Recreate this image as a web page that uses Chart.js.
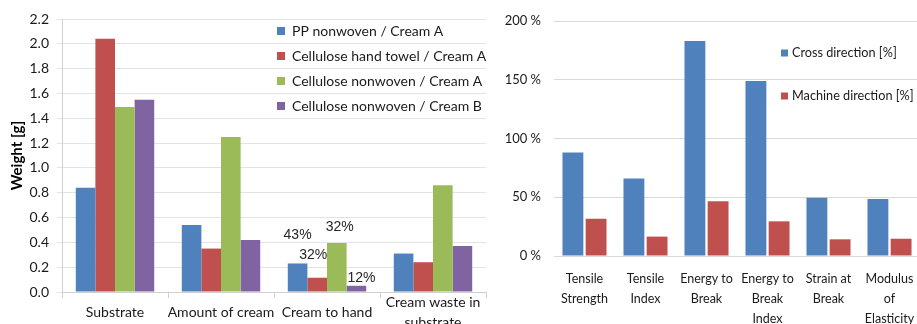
<!DOCTYPE html>
<html>
<head>
<meta charset="utf-8">
<script src="https://cdn.jsdelivr.net/npm/chart.js@4"></script>
<style>
  html, body { margin: 0; padding: 0; background: #fff; overflow: hidden; }
  body { width: 917px; height: 324px; position: relative; }
  #leftWrap { position: absolute; left: 0; top: 0; width: 490px; height: 324px; }
  #rightWrap { position: absolute; left: 490px; top: 0; width: 430px; height: 324px; }
</style>
</head>
<body>
<div id="leftWrap"><canvas id="weightChart"></canvas></div>
<div id="rightWrap"><canvas id="strengthChart"></canvas></div>
<script>
// left chart: weights per substrate / cream combination
const weightCategories = ['Substrate', 'Amount of cream', 'Cream to hand', ['Cream waste in', 'substrate']];
const ppCreamA = [0.84, 0.54, 0.23, 0.31];
const towelCreamA = [2.04, 0.35, 0.115, 0.24];
const celluloseCreamA = [1.49, 1.25, 0.395, 0.86];
const celluloseCreamB = [1.55, 0.42, 0.05, 0.37];
const weightSeriesNames = ['PP nonwoven / Cream A', 'Cellulose hand towel / Cream A', 'Cellulose nonwoven / Cream A', 'Cellulose nonwoven / Cream B'];
const transferShares = ['43%', '32%', '32%', '12%']; // shown over "Cream to hand"
const weightTicks = [0, 0.2, 0.4, 0.6, 0.8, 1.0, 1.2, 1.4, 1.6, 1.8, 2.0, 2.2];

// right chart: relative change of strength properties
const strengthCategories = [['Tensile', 'Strength'], ['Tensile', 'Index'], ['Energy to', 'Break'], ['Energy to', 'Break', 'Index'], ['Strain at', 'Break'], ['Modulus', 'of', 'Elasticity']];
const crossDirection = [88, 66, 183, 149, 49.6, 48.5];
const machineDirection = [31.7, 16.5, 46.5, 29.5, 14.2, 14.7];
const strengthSeriesNames = ['Cross direction [%]', 'Machine direction [%]'];
const strengthTicks = [0, 50, 100, 150, 200];

const BLUE = '#4f81bd', RED = '#c0504d', GREEN = '#9bbb59', PURPLE = '#8064a2';
const FONT = 'Lato, "Open Sans", sans-serif';

// draws a legend inside the plot area (the built-in one can't sit there)
function insideLegend(id, x, y0, rowGap, box, textX, size) {
    return {
        id: id,
        afterDraw(chart) {
            const ctx = chart.ctx;
            ctx.save();
            ctx.font = size + 'px ' + FONT;
            ctx.textBaseline = 'middle';
            chart.data.datasets.forEach((ds, i) => {
                const y = y0 + i * rowGap;
                ctx.fillStyle = ds.backgroundColor;
                ctx.fillRect(x, y - box / 2, box, box);
                ctx.fillStyle = '#1a1a1a';
                ctx.fillText(ds.label, textX, y);
            });
            ctx.restore();
        }
    };
}

// percentage labels above the "Cream to hand" bars
const shareLabels = {
    id: 'shareLabels',
    afterDatasetsDraw(chart) {
        const ctx = chart.ctx;
        const shifts = [[0, -28], [-4, -23], [3, -16], [5, -8]];
        ctx.save();
        ctx.font = '14px "Liberation Sans", Arial, sans-serif';
        ctx.fillStyle = '#262626';
        ctx.textAlign = 'center';
        ctx.textBaseline = 'middle';
        chart.data.datasets.forEach((ds, i) => {
            const bar = chart.getDatasetMeta(i).data[2];
            ctx.fillText(transferShares[i], bar.x + shifts[i][0], bar.y + shifts[i][1]);
        });
        ctx.restore();
    }
};

function makeDataset(label, data, color) {
    return { label: label, data: data, backgroundColor: color, borderWidth: 0 };
}

new Chart(document.getElementById('weightChart'), {
    type: 'bar',
    data: {
        labels: weightCategories,
        datasets: [
            makeDataset(weightSeriesNames[0], ppCreamA, BLUE),
            makeDataset(weightSeriesNames[1], towelCreamA, RED),
            makeDataset(weightSeriesNames[2], celluloseCreamA, GREEN),
            makeDataset(weightSeriesNames[3], celluloseCreamB, PURPLE)
        ]
    },
    options: {
        responsive: true,
        maintainAspectRatio: false,
        animation: false,
        layout: { padding: { top: 19, right: 4, left: 0, bottom: 0 } },
        datasets: { bar: { categoryPercentage: 0.74, barPercentage: 1.0 } },
        plugins: { legend: { display: false }, tooltip: { enabled: false } },
        scales: {
            x: {
                grid: { display: true, drawOnChartArea: false, drawTicks: true, tickLength: 6, color: '#d0d0d0', offset: true },
                border: { display: true, color: '#d0d0d0' },
                ticks: {
                    font: { family: FONT, size: 14, lineHeight: '20px' }, color: '#1a1a1a',
                    padding: 4, maxRotation: 0, autoSkip: false, crossAlign: 'center'
                },
                afterFit(scale) { scale.height = 32; }
            },
            y: {
                min: 0,
                max: 2.2,
                afterBuildTicks(scale) { scale.ticks = weightTicks.map(v => ({ value: v })); },
                grid: { color: '#e3e3e3', drawTicks: true, tickLength: 5 },
                border: { display: true, color: '#d0d0d0' },
                ticks: {
                    font: { family: FONT, size: 14 }, color: '#1a1a1a', padding: 8,
                    callback: v => v.toFixed(1)
                },
                title: { display: true, text: 'Weight [g]', font: { family: FONT, size: 15, weight: 'bold' }, color: '#000', padding: { top: 8, bottom: 0 } },
                afterFit(scale) { scale.width = 62; }
            }
        }
    },
    plugins: [insideLegend('weightLegend', 277, 31, 25, 8, 292, 14), shareLabels]
});

new Chart(document.getElementById('strengthChart'), {
    type: 'bar',
    data: {
        labels: strengthCategories,
        datasets: [
            makeDataset(strengthSeriesNames[0], crossDirection, BLUE),
            makeDataset(strengthSeriesNames[1], machineDirection, RED)
        ]
    },
    options: {
        responsive: true,
        maintainAspectRatio: false,
        animation: false,
        layout: { padding: { top: 21, right: 0, left: 0, bottom: 0 } },
        datasets: { bar: { categoryPercentage: 0.76, barPercentage: 0.9 } },
        plugins: { legend: { display: false }, tooltip: { enabled: false } },
        scales: {
            x: {
                grid: { display: false },
                border: { display: false },
                ticks: {
                    font: { family: FONT, size: 12.5, lineHeight: '20px' }, color: '#1a1a1a',
                    padding: 5, maxRotation: 0, autoSkip: false, crossAlign: 'near'
                },
                afterFit(scale) { scale.height = 68; }
            },
            y: {
                min: 0,
                max: 200,
                afterBuildTicks(scale) { scale.ticks = strengthTicks.map(v => ({ value: v })); },
                grid: { color: '#d9d9d9', drawTicks: false },
                border: { display: false },
                ticks: {
                    font: { family: FONT, size: 13 }, color: '#1a1a1a', padding: 13,
                    callback: v => v + ' %'
                },
                afterFit(scale) { scale.width = 64; }
            }
        }
    },
    plugins: [insideLegend('strengthLegend', 291, 53, 43, 7, 302, 12.7)]
});
</script>
</body>
</html>
